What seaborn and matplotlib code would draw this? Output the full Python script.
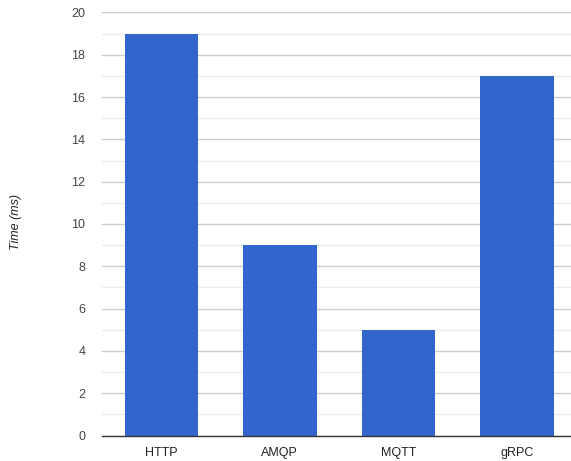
import matplotlib
matplotlib.use("Agg")
import matplotlib.pyplot as plt
import seaborn as sns
import pandas as pd
from matplotlib.ticker import MultipleLocator

protocols = ["HTTP", "AMQP", "MQTT", "gRPC"]
times_ms = [19, 9, 5, 17]
y_ticks = [0, 2, 4, 6, 8, 10, 12, 14, 16, 18, 20]

df = pd.DataFrame({"protocol": protocols, "time": times_ms})

sns.set_theme(style="white")
plt.rcParams["font.family"] = ["Liberation Sans", "DejaVu Sans"]

W, H = 571, 461
fig = plt.figure(figsize=(W / 100, H / 100), dpi=100)
left, right, bottom, top = 102, 571, 435.5, 12.5
ax = fig.add_axes([left / W, (H - bottom) / H, (right - left) / W, (bottom - top) / H])

sns.barplot(data=df, x="protocol", y="time", color="#3366cc", saturation=1,
            width=0.62, ax=ax, zorder=3, linewidth=0)

ax.set_xlim(-0.5, (571 - 161.5) / 118.5)
ax.set_ylim(0, 20)
ax.set_yticks(y_ticks)
ax.yaxis.set_minor_locator(MultipleLocator(1))
ax.grid(axis="y", which="major", color="#cccccc", linewidth=1, zorder=0)
ax.grid(axis="y", which="minor", color="#ededed", linewidth=1, zorder=0)
ax.set_axisbelow(True)

for s in ["top", "right", "left"]:
    ax.spines[s].set_visible(False)
ax.spines["bottom"].set_color("#333333")
ax.spines["bottom"].set_linewidth(1)
ax.spines["bottom"].set_zorder(4)

ax.tick_params(axis="y", which="both", length=0, pad=12, labelsize=9, labelcolor="#444444")
ax.tick_params(axis="x", length=0, pad=8, labelsize=9, labelcolor="#222222")

ax.set_xlabel("")
ax.set_ylabel("Time (ms)", fontsize=9, style="italic", color="#222222")
ax.yaxis.set_label_coords((22 - left) / (right - left), (bottom - 222) / (bottom - top))

fig.savefig("out.png", dpi=100)
